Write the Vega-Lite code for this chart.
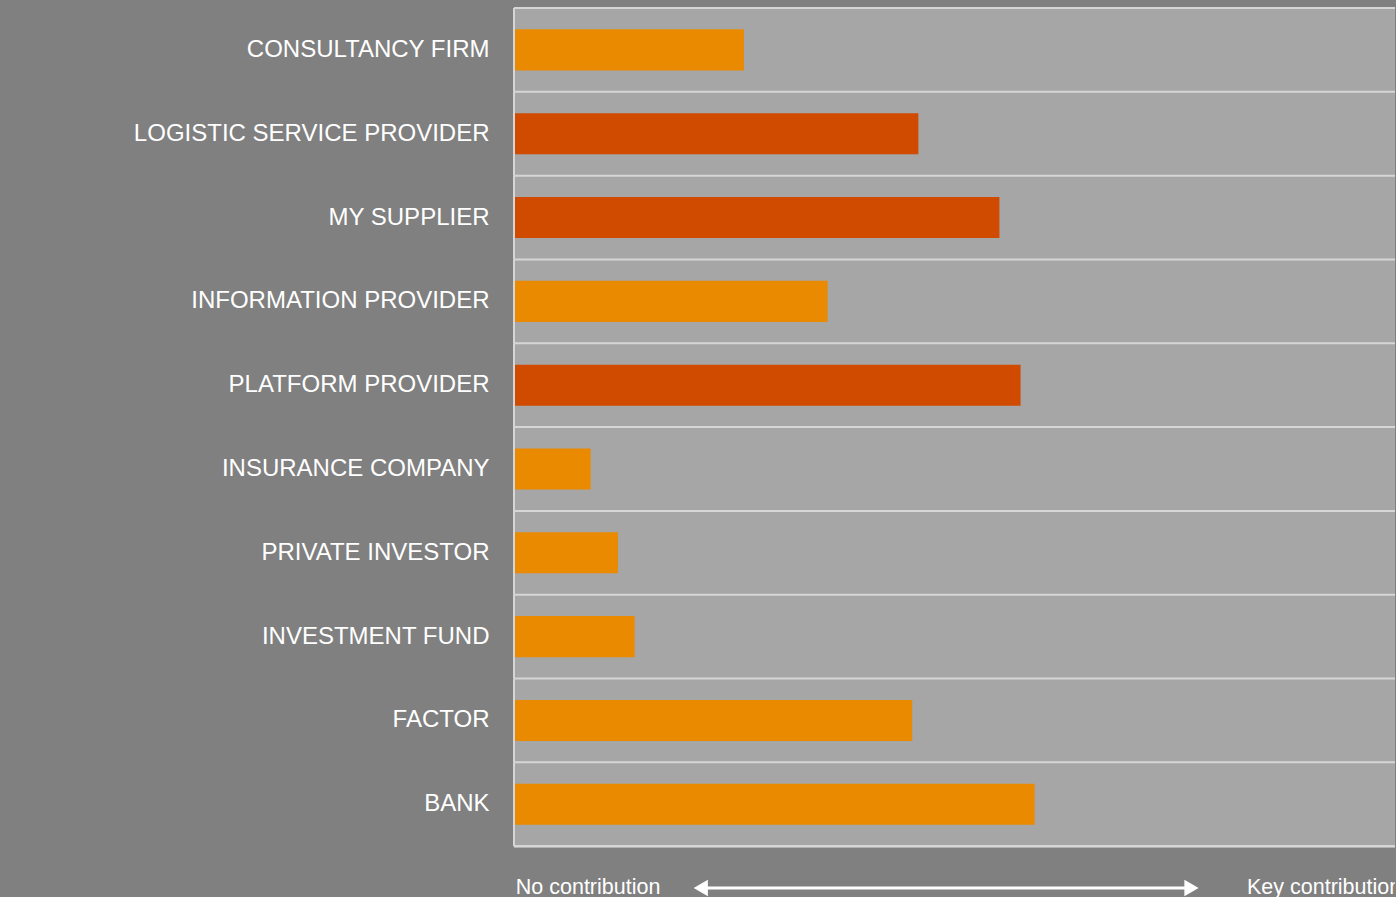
{
  "$schema": "https://vega.github.io/schema/vega-lite/v6.json",
  "autosize": {"type": "fit-x", "contains": "padding"},
  "width": 1396,
  "height": 922,
  "padding": {"top": 7, "left": 0, "right": 0, "bottom": 0},
  "background": "#808080",
  "config": {
    "view": {"stroke": null, "fill": null},
    "font": "Liberation Sans"
  },
  "data": {
    "values": [
      {"cat": "CONSULTANCY FIRM", "value": 26.1, "group": "other"},
      {"cat": "LOGISTIC SERVICE PROVIDER", "value": 45.9, "group": "highlight"},
      {"cat": "MY SUPPLIER", "value": 55.1, "group": "highlight"},
      {"cat": "INFORMATION PROVIDER", "value": 35.6, "group": "other"},
      {"cat": "PLATFORM PROVIDER", "value": 57.5, "group": "highlight"},
      {"cat": "INSURANCE COMPANY", "value": 8.7, "group": "other"},
      {"cat": "PRIVATE INVESTOR", "value": 11.8, "group": "other"},
      {"cat": "INVESTMENT FUND", "value": 13.7, "group": "other"},
      {"cat": "FACTOR", "value": 45.2, "group": "other"},
      {"cat": "BANK", "value": 59.1, "group": "other"},
      {"cat": " ", "label": "No contribution", "pos": 0.2},
      {"cat": " ", "label": "Key contribution", "pos": 83.2},
      {"cat": " ", "from": 21.2, "to": 76.9}
    ]
  },
  "encoding": {
    "y": {
      "field": "cat",
      "type": "nominal",
      "sort": null,
      "scale": {"paddingInner": 0, "paddingOuter": 0},
      "axis": {
        "title": null,
        "domain": false,
        "ticks": false,
        "grid": false,
        "labelFont": "Liberation Sans",
        "labelFontSize": 24,
        "labelColor": "#ffffff",
        "labelPadding": 25,
        "labelLimit": 0,
        "minExtent": 514,
        "maxExtent": 514
      }
    }
  },
  "layer": [
    {
      "transform": [{"filter": "isValid(datum.value)"}],
      "mark": {"type": "bar", "fill": "#a6a6a6", "stroke": null},
      "encoding": {
        "x": {"datum": 0, "type": "quantitative", "scale": {"domain": [0, 100], "nice": false, "zero": true}, "axis": null},
        "x2": {"datum": 100}
      }
    },
    {
      "transform": [{"filter": "isValid(datum.value)"}],
      "mark": {"type": "bar", "height": {"band": 0.49}},
      "encoding": {
        "x": {"field": "value", "type": "quantitative"},
        "color": {
          "field": "group",
          "type": "nominal",
          "scale": {"domain": ["other", "highlight"], "range": ["#ea8a00", "#d04a00"]},
          "legend": null
        }
      }
    },
    {
      "mark": {"type": "rule", "stroke": "#d6d6d6", "strokeWidth": 2},
      "encoding": {
        "y": {"field": "cat", "type": "nominal", "sort": null, "bandPosition": 0},
        "x": {"datum": 0, "type": "quantitative"},
        "x2": {"datum": 100}
      }
    },
    {
      "transform": [{"filter": "isValid(datum.value)"}],
      "mark": {"type": "bar", "fill": null, "stroke": "#d6d6d6", "strokeWidth": 2},
      "encoding": {
        "x": {"datum": 0, "type": "quantitative"},
        "x2": {"datum": 0}
      }
    },
    {
      "transform": [{"filter": "isValid(datum.from)"}],
      "mark": {"type": "rule", "stroke": "#ffffff", "strokeWidth": 3},
      "encoding": {
        "x": {"field": "from", "type": "quantitative"},
        "x2": {"field": "to"}
      }
    },
    {
      "transform": [{"filter": "isValid(datum.from)"}],
      "mark": {"type": "point", "shape": "triangle-left", "size": 270, "filled": true, "color": "#ffffff", "opacity": 1, "strokeWidth": 0},
      "encoding": {
        "x": {"field": "from", "type": "quantitative"}
      }
    },
    {
      "transform": [{"filter": "isValid(datum.from)"}],
      "mark": {"type": "point", "shape": "triangle-right", "size": 270, "filled": true, "color": "#ffffff", "opacity": 1, "strokeWidth": 0},
      "encoding": {
        "x": {"field": "to", "type": "quantitative"}
      }
    },
    {
      "transform": [{"filter": "isValid(datum.label)"}],
      "mark": {"type": "text", "align": "left", "baseline": "middle", "fontSize": 21.5, "color": "#ffffff", "font": "Liberation Sans", "clip": true},
      "encoding": {
        "x": {"field": "pos", "type": "quantitative"},
        "text": {"field": "label"}
      }
    }
  ]
}
